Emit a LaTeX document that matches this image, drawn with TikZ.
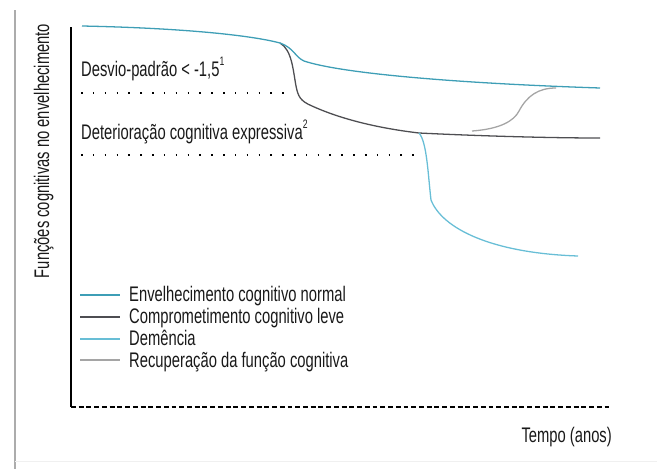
\documentclass[tikz,border=0pt]{standalone}
\usepackage{fontspec}
\setmainfont{Liberation Sans}[FakeStretch=0.70]
\usepackage{tikz}
\usetikzlibrary{positioning}

\definecolor{normalcol}{RGB}{62,158,182}
\definecolor{mcicol}{RGB}{78,78,82}
\definecolor{demcol}{RGB}{104,190,214}
\definecolor{recovcol}{RGB}{165,165,165}

\newcommand{\supnum}[1]{\raisebox{0.95ex}{\fontsize{10.5}{10.5}\selectfont #1}}

\tikzset{
  lbl/.style={font=\fontsize{18}{21}\selectfont, inner sep=0pt, text=black!90},
  normalline/.style={normalcol, line width=1.1pt},
  mciline/.style={mcicol, line width=1.1pt},
  demline/.style={demcol, line width=1.1pt},
  recovline/.style={recovcol, line width=1.1pt},
  guide/.style={black, line width=1.3pt, dash pattern=on 1.3pt off 8.8pt},
}

\begin{document}
\begin{tikzpicture}[x=0.03cm, y=-0.03cm]
  \useasboundingbox (0,0) rectangle (657,469);
  % frame bar at the left
  \draw[gray!65, line width=2.4pt] (15,10) -- (15,469);
  \draw[gray!12, line width=0.8pt] (15,461) -- (657,461);

  % Axes
  \coordinate (ytop) at (71,27);
  \coordinate (orig) at (71,407);
  \coordinate (xend) at (612,407);
  \draw[black, line width=1.4pt] (ytop) -- (orig);
  \draw[black, line width=1pt, dash pattern=on 4.2pt off 2.4pt] (orig) -- (xend);
  \node (ylab) [lbl, rotate=90, anchor=base] at (49,151) {Funções cognitivas no envelhecimento};
  \node (xlab) [lbl, anchor=base east] at (612,442) {Tempo (anos)};

  % Thresholds
  \node (sd) [lbl, anchor=base west] at (81,76) {Desvio-padrão < -1,5\supnum{1}};
  \node (det) [lbl, anchor=base west] at (81,139) {Deterioração cognitiva expressiva\supnum{2}};
  \coordinate (sdA) at (81,93);
  \coordinate (sdB) at (291,93);
  \coordinate (detA) at (81,155);
  \coordinate (detB) at (419,155);
  \draw[guide] (sdA) -- (sdB);
  \draw[guide] (detA) -- (detB);

  % Curves
  \coordinate (start) at (82,26);
  \coordinate (mcisplit) at (280,43);
  \coordinate (demsplit) at (419,133);
  \coordinate (normalend) at (600,88);
  \coordinate (mciend) at (600,138);
  \coordinate (demend) at (578,256);
  \coordinate (recstart) at (472,131);

  \draw[mciline] (mcisplit) .. controls (292,50) and (293,70) .. (296,86)
    .. controls (298,96) and (300,101) .. (312,106)
    .. controls (345,121) and (385,129) .. (demsplit)
    .. controls (480,136) and (550,138) .. (mciend);
  \draw[demline] (demsplit) .. controls (427,142) and (428,175) .. (431,200)
    .. controls (442,228) and (490,253) .. (demend);
  \draw[recovline] (recstart) .. controls (500,129) and (514,121) .. (519,111)
    .. controls (527,96) and (538,88) .. (556,88);
  \draw[normalline] (start) .. controls (180,28) and (250,35) .. (mcisplit)
    .. controls (294,48) and (295,57) .. (304,61)
    .. controls (340,73) and (450,83) .. (normalend);

  % Legend
  \node (lg1) [lbl, anchor=base west] at (129,301) {Envelhecimento cognitivo normal};
  \node (lg2) [lbl, anchor=base west] at (129,323) {Comprometimento cognitivo leve};
  \node (lg3) [lbl, anchor=base west] at (129,345) {Demência};
  \node (lg4) [lbl, anchor=base west] at (129,367) {Recuperação da função cognitiva};
  \draw[normalline] (80,295) -- (120,295);
  \draw[mciline] (80,317) -- (120,317);
  \draw[demline] (80,339) -- (120,339);
  \draw[recovline] (80,360) -- (120,360);

\end{tikzpicture}
\end{document}
